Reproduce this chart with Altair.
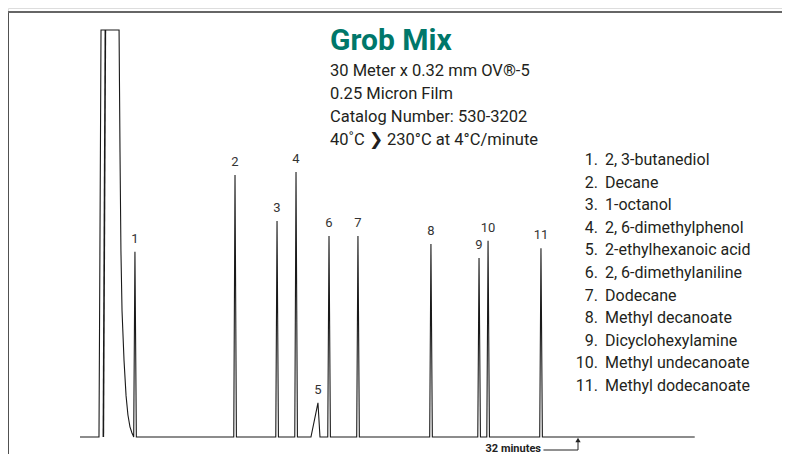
import altair as alt
import pandas as pd

# ---- data (time in minutes, response in % of full scale) ----
solvent_t = [0.0, 1.22, 1.35, 2.51, 2.57, 2.63, 2.70, 2.83, 2.96, 3.08, 3.21, 3.34, 3.42]
solvent_h = [0.0, 0.0, 100.0, 100.0, 70.0, 45.7, 31.0, 18.7, 10.1, 5.4, 2.5, 1.0, 0.3]
inner_t = [1.50, 1.63]
inner_h = [0.0, 100.0]

peak_ids = ["1", "2", "3", "4", "5", "6", "7", "8", "9", "10", "11"]
peak_t = [3.53, 9.96, 12.66, 13.88, 15.29, 16.00, 17.86, 22.55, 25.64, 26.22, 29.62]
peak_h = [45.5, 64.4, 53.1, 65.1, 8.4, 49.4, 49.4, 47.4, 44.0, 48.2, 46.4]
peak_rise = [0.08, 0.08, 0.08, 0.08, 0.45, 0.08, 0.08, 0.08, 0.08, 0.08, 0.08]
peak_fall = [0.09, 0.09, 0.09, 0.09, 0.13, 0.09, 0.09, 0.09, 0.09, 0.09, 0.09]
run_end = 39.5
marker_t = 32

compounds = ["2, 3-butanediol", "Decane", "1-octanol", "2, 6-dimethylphenol",
             "2-ethylhexanoic acid", "2, 6-dimethylaniline", "Dodecane",
             "Methyl decanoate", "Dicyclohexylamine", "Methyl undecanoate",
             "Methyl dodecanoate"]

title_text = "Grob Mix"
info_lines = ["30 Meter x 0.32 mm OV®-5", "0.25 Micron Film",
              "Catalog Number: 530-3202", "40˚C ❯  230°C at 4°C/minute"]
marker_label = "32 minutes"

# ---- build trace ----
pts = []
for t, h in zip(solvent_t, solvent_h):
    pts.append((t, h))
for t, h, r, f in zip(peak_t, peak_h, peak_rise, peak_fall):
    pts += [(t - r, 0.0), (t, h), (t + f, 0.0)]
pts.append((run_end, 0.0))
trace = pd.DataFrame({"t": [p[0] for p in pts], "h": [p[1] for p in pts],
                      "o": list(range(len(pts))), "s": "main"})
inner = pd.DataFrame({"t": inner_t, "h": inner_h, "o": [0, 1], "s": "inner"})
peaks = pd.DataFrame({"id": peak_ids, "t": peak_t, "h": peak_h})

FONT = "Roboto, Liberation Sans, sans-serif"
W, H = 774, 446
xs = alt.Scale(domain=[-4.627, 45.108], nice=False, zero=False)
ys = alt.Scale(domain=[-4.177, 105.405], nice=False, zero=False)
X = alt.X("t:Q", scale=xs, axis=None)
Y = alt.Y("h:Q", scale=ys, axis=None)

line = alt.Chart(trace).mark_line(color="#1a1a1a", strokeWidth=1.1).encode(
    x=X, y=Y, order="o:Q")
line2 = alt.Chart(inner).mark_line(color="#1a1a1a", strokeWidth=1.6).encode(
    x=X, y=Y, order="o:Q")

labels = alt.Chart(peaks).mark_text(font=FONT, fontSize=13, color="#333333",
                                    baseline="bottom", dy=-6).encode(
    x=X, y=Y, text="id:N")

one = alt.Data(values=[{}])
title = alt.Chart(one).mark_text(text=title_text, font=FONT, fontSize=30,
                                 fontWeight="bold", color="#00776a",
                                 align="left", baseline="alphabetic").encode(
    x=alt.value(322), y=alt.value(42))
info = alt.Chart(one).mark_text(text=info_lines, font=FONT, fontSize=16.5,
                                color="#231f20", align="left",
                                baseline="alphabetic", lineHeight=23).encode(
    x=alt.value(322), y=alt.value(68))
nums = alt.Chart(one).mark_text(text=[f"{i}." for i in peak_ids], font=FONT,
                                fontSize=16, color="#231f20", align="right",
                                baseline="alphabetic", lineHeight=22.6).encode(
    x=alt.value(590), y=alt.value(157))
names = alt.Chart(one).mark_text(text=compounds, font=FONT, fontSize=16,
                                 color="#231f20", align="left",
                                 baseline="alphabetic", lineHeight=22.6).encode(
    x=alt.value(597), y=alt.value(157))

frame_left = alt.Chart(one).mark_rule(color="#222222", strokeWidth=1.5).encode(
    x=alt.value(0), y=alt.value(4), y2=alt.value(H + 10))
frame_top = alt.Chart(one).mark_rule(color="#666666", strokeWidth=2).encode(
    x=alt.value(0), x2=alt.value(W + 10), y=alt.value(4))

arr_h = alt.Chart(one).mark_rule(color="#222222", strokeWidth=1).encode(
    x=alt.datum(29.78, scale=xs), x2=alt.datum(marker_t), y=alt.value(442))
arr_v = alt.Chart(one).mark_rule(color="#222222", strokeWidth=1).encode(
    x=alt.datum(marker_t, scale=xs), y=alt.value(442), y2=alt.value(434))
arr_head = alt.Chart(one).mark_point(shape="triangle-up", filled=True,
                                     color="#222222", size=28, opacity=1).encode(
    x=alt.datum(marker_t, scale=xs), y=alt.value(432))
arr_text = alt.Chart(one).mark_text(text=marker_label, font=FONT, fontSize=11,
                                    fontWeight="bold", color="#222222",
                                    align="right", baseline="middle").encode(
    x=alt.datum(29.62, scale=xs), y=alt.value(441))

chart = alt.layer(frame_left, frame_top, line, line2, labels, title, info,
                  nums, names, arr_h, arr_v, arr_head, arr_text).properties(
    width=W, height=H, padding=0, autosize=alt.AutoSizeParams(type="none")
).configure_view(stroke=None).configure(background="white")

chart.save("out.html", embed_options={"renderer": "svg", "actions": False})
